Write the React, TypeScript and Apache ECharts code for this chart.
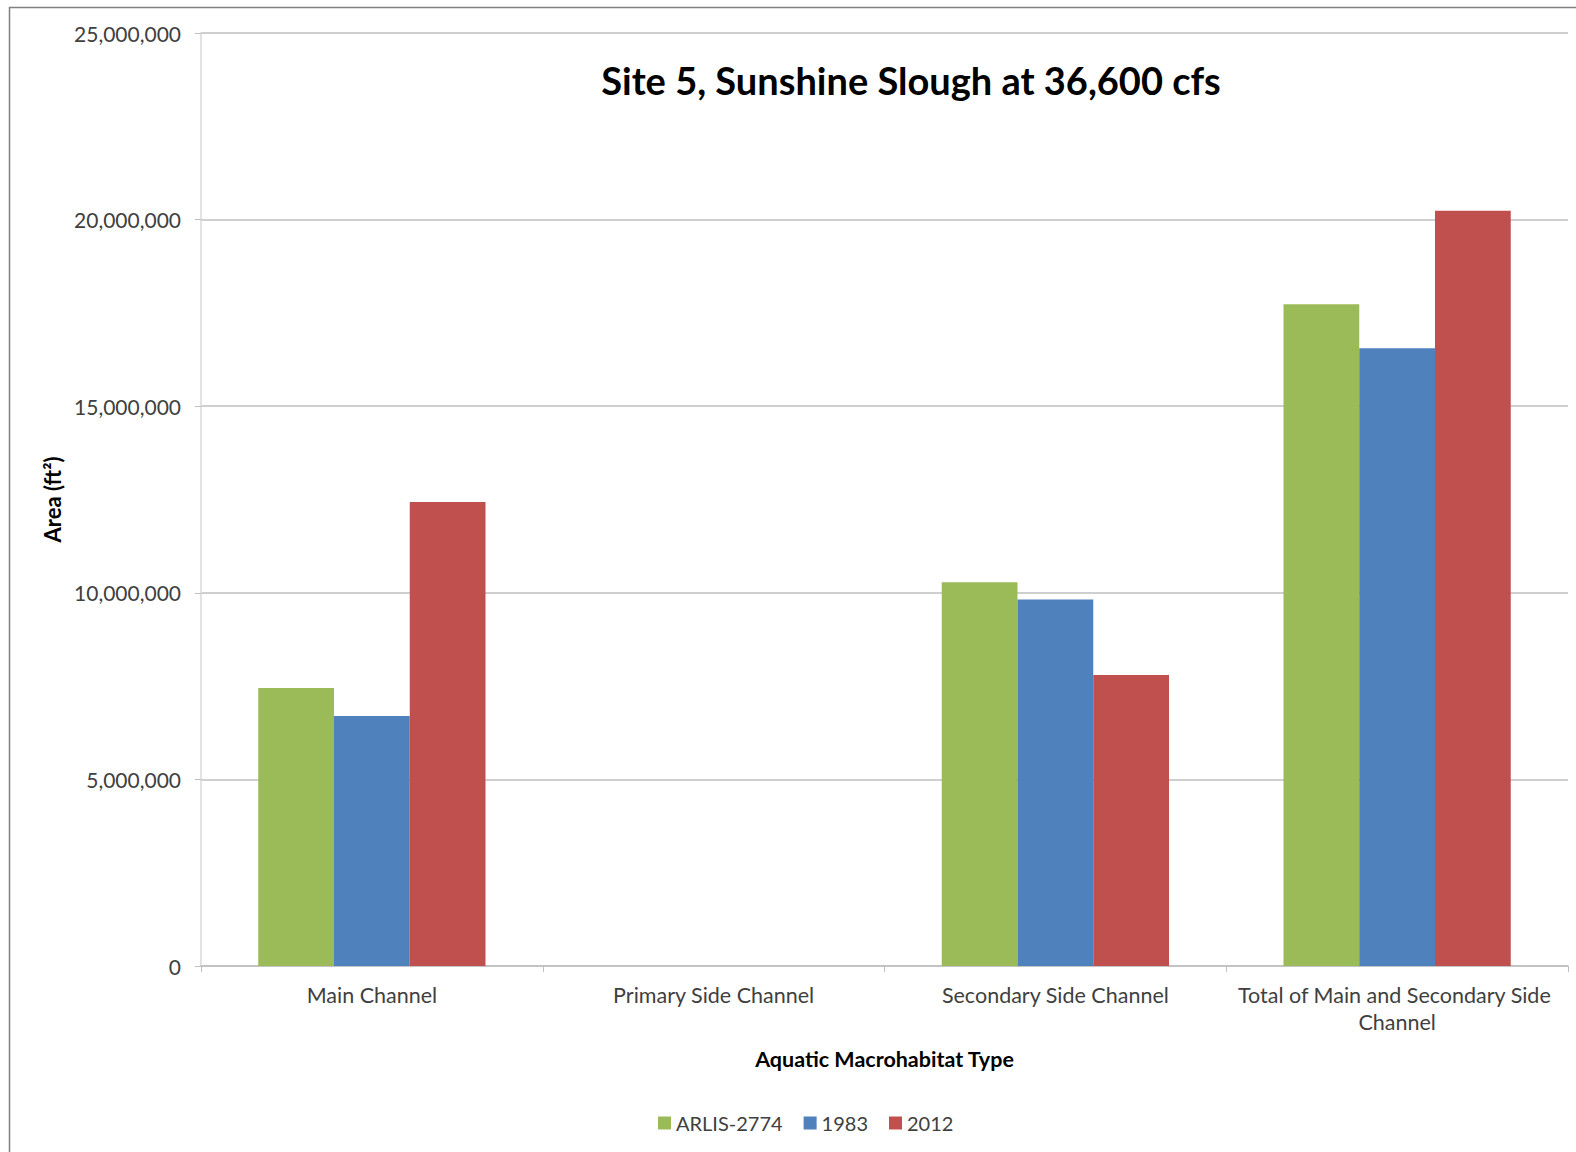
import React, { useEffect, useRef } from "react";
import * as echarts from "echarts";

const categories = [
  "Main Channel",
  "Primary Side Channel",
  "Secondary Side Channel",
  "Total of Main and Secondary Side Channel",
];
const seriesNames = ["ARLIS-2774", "1983", "2012"];
const arlis2774 = [7450000, 0, 10280000, 17730000];
const y1983 = [6700000, 0, 9820000, 16550000];
const y2012 = [12430000, 0, 7800000, 20240000];
const yTicks = [0, 5000000, 10000000, 15000000, 20000000, 25000000];
const colors = ["#9BBB59", "#4F81BD", "#C0504D"];

const FONT = "Lato, 'Noto Sans', sans-serif";

export default function App() {
  const ref = useRef<HTMLDivElement>(null);
  useEffect(() => {
    if (!ref.current) return;
    const chart = echarts.init(ref.current, undefined, { renderer: "svg" });
    const values = [arlis2774, y1983, y2012];
    chart.setOption({
      animation: false,
      backgroundColor: "#ffffff",
      textStyle: { fontFamily: FONT },
      title: {
        text: "Site 5, Sunshine Slough at 36,600 cfs",
        left: 906,
        top: 56,
        textAlign: "center",
        textStyle: { fontFamily: FONT, fontSize: 38, fontWeight: "bold", color: "#000000" },
      },
      legend: {
        left: 653,
        top: 1108,
        itemWidth: 13,
        itemHeight: 13,
        itemGap: 21,
        icon: "rect",
        textStyle: { fontFamily: FONT, fontSize: 20, color: "#404040" },
        data: seriesNames,
      },
      grid: { left: 201, right: 8, top: 33, bottom: 186, containLabel: false },
      xAxis: {
        type: "category",
        data: categories,
        name: "Aquatic Macrohabitat Type",
        nameLocation: "middle",
        nameGap: 82,
        nameTextStyle: { fontFamily: FONT, fontSize: 21.5, fontWeight: "bold", color: "#000000" },
        axisLine: { lineStyle: { color: "#BFBFBF", width: 1.5 } },
        axisTick: { show: true, interval: 0, length: 6, lineStyle: { color: "#BFBFBF" } },
        axisLabel: {
          interval: 0,
          fontFamily: FONT,
          fontSize: 21.5,
          color: "#404040",
          margin: 15,
          lineHeight: 27,
          width: 335,
          overflow: "break",
        },
      },
      yAxis: {
        type: "value",
        min: yTicks[0],
        max: yTicks[yTicks.length - 1],
        interval: yTicks[1] - yTicks[0],
        name: "Area (ft²)",
        nameLocation: "middle",
        nameGap: 136,
        nameTextStyle: { fontFamily: FONT, fontSize: 22, fontWeight: "bold", color: "#000000" },
        axisLine: { show: true, lineStyle: { color: "#D9D9D9", width: 1.5 } },
        axisTick: { show: true, length: 6, lineStyle: { color: "#BFBFBF" } },
        splitLine: { lineStyle: { color: "#BFBFBF", width: 1.5 } },
        axisLabel: {
          fontFamily: FONT,
          fontSize: 21,
          color: "#404040",
          margin: 20,
          formatter: (v: number) => v.toLocaleString("en-US"),
        },
      },
      series: seriesNames.map((name, i) => ({
        name,
        type: "bar",
        data: values[i],
        barGap: "0%",
        barCategoryGap: "33.5%",
        itemStyle: { color: colors[i] },
      })),
      graphic: [
        {
          type: "line",
          shape: { x1: 9.5, y1: 7, x2: 9.5, y2: 1152 },
          style: { stroke: "#808080", lineWidth: 1.5 },
        },
        {
          type: "line",
          shape: { x1: 9, y1: 7.5, x2: 1576, y2: 7.5 },
          style: { stroke: "#808080", lineWidth: 1.5 },
        },
      ],
    });
    return () => chart.dispose();
  }, []);
  return (
    <div
      ref={ref}
      style={{ position: "absolute", left: 0, top: 0, width: 1576, height: 1152 }}
    />
  );
}
